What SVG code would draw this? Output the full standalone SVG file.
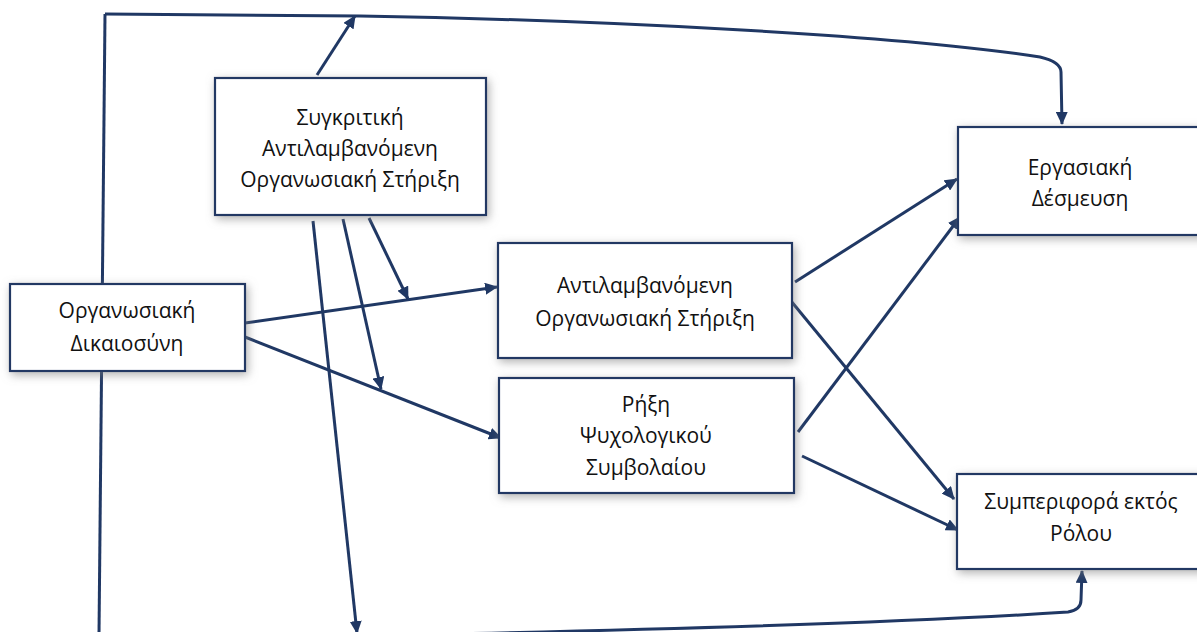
<svg xmlns="http://www.w3.org/2000/svg" width="1197" height="632" viewBox="0 0 1197 632">
  <style>
    .box { fill: #ffffff; stroke: #203864; stroke-width: 2.2; filter: url(#shadow); }
    .lbl { font-family: "Open Sans", "Noto Sans", "DejaVu Sans", sans-serif; font-size: 21px; fill: #111111; text-anchor: middle; }
    .link { fill: none; stroke: #203864; stroke-width: 3; stroke-linejoin: round; }
    .arr { marker-end: url(#head); }
  </style>
  <defs>
    <filter id="shadow" x="-20%" y="-30%" width="140%" height="160%">
      <feDropShadow dx="2" dy="3" stdDeviation="5" flood-color="#7f7f7f" flood-opacity="0.6"/>
    </filter>
    <marker id="head" viewBox="0 0 13 12" refX="12" refY="6" markerWidth="13" markerHeight="12" markerUnits="userSpaceOnUse" orient="auto">
      <path d="M0,0 L13,6 L0,12 z" fill="#203864"/>
    </marker>
  </defs>

  <rect width="1197" height="632" fill="#ffffff"/>

  <!-- connectors -->
  <g id="connectors">
    <!-- long frame line: left edge and top run into Εργασιακή Δέσμευση -->
    <path class="link" d="M99,634 L105,14"/>
    <path class="link arr" d="M105,14 L360,16 C600,20 900,35 1040,57 Q1061,62 1061,72 L1062,124"/>
    <!-- bottom run into Συμπεριφορά εκτός Ρόλου -->
    <path class="link arr" d="M400,635 C600,631 900,623 1068,612 Q1081,610 1081,600 L1082,571"/>
    <!-- moderator arrows from Συγκριτική box -->
    <path class="link arr" d="M317,75 L355,16"/>
    <path class="link arr" d="M313,221 L357,633"/>
    <path class="link arr" d="M343,219 L381,389"/>
    <path class="link arr" d="M369,218 L408,299"/>
    <!-- from Οργανωσιακή Δικαιοσύνη -->
    <path class="link arr" d="M245,323 L497,287"/>
    <path class="link arr" d="M245,337 L501,438"/>
    <!-- from Αντιλαμβανόμενη Οργανωσιακή Στήριξη -->
    <path class="link arr" d="M795,282 L957,179"/>
    <path class="link arr" d="M791,301 L954,499"/>
    <!-- from Ρήξη Ψυχολογικού Συμβολαίου -->
    <path class="link arr" d="M798,432 L960,217"/>
    <path class="link arr" d="M802,456 L958,530"/>
  </g>

  <!-- nodes -->
  <g id="node-comparative-pos">
    <rect class="box" x="215" y="78" width="271" height="137"/>
    <text class="lbl" x="350" y="125">Συγκριτική</text>
    <text class="lbl" x="350" y="156">Αντιλαμβανόμενη</text>
    <text class="lbl" x="350" y="187">Οργανωσιακή Στήριξη</text>
  </g>

  <g id="node-org-justice">
    <rect class="box" x="10" y="284" width="235" height="87"/>
    <text class="lbl" x="127" y="318">Οργανωσιακή</text>
    <text class="lbl" x="127" y="351">Δικαιοσύνη</text>
  </g>

  <g id="node-pos">
    <rect class="box" x="498" y="243" width="294" height="115"/>
    <text class="lbl" x="645" y="293">Αντιλαμβανόμενη</text>
    <text class="lbl" x="645" y="326">Οργανωσιακή Στήριξη</text>
  </g>

  <g id="node-breach">
    <rect class="box" x="499" y="378" width="295" height="115"/>
    <text class="lbl" x="646" y="412">Ρήξη</text>
    <text class="lbl" x="646" y="443">Ψυχολογικού</text>
    <text class="lbl" x="646" y="475">Συμβολαίου</text>
  </g>

  <g id="node-commitment">
    <rect class="box" x="958" y="127" width="250" height="108"/>
    <text class="lbl" x="1080" y="175">Εργασιακή</text>
    <text class="lbl" x="1080" y="206">Δέσμευση</text>
  </g>

  <g id="node-extrarole">
    <rect class="box" x="957" y="474" width="250" height="95"/>
    <text class="lbl" x="1081" y="509">Συμπεριφορά εκτός</text>
    <text class="lbl" x="1081" y="541">Ρόλου</text>
  </g>
</svg>
